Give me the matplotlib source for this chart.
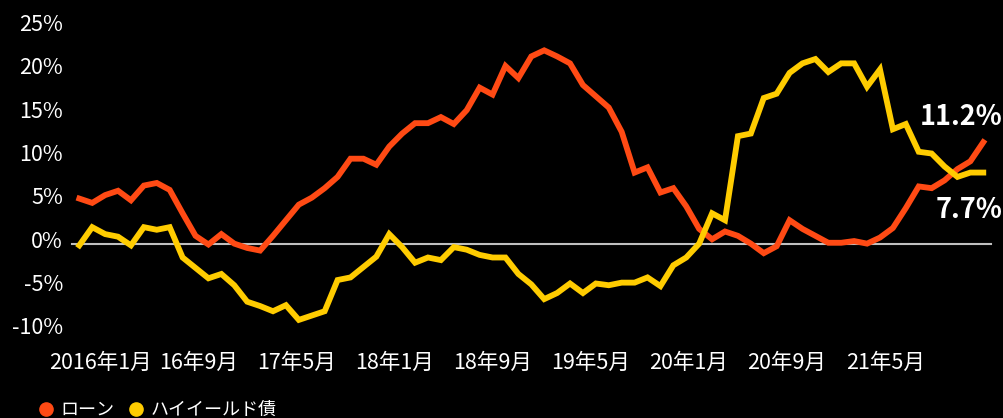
import matplotlib
matplotlib.use("Agg")
import matplotlib.pyplot as plt
import matplotlib.transforms as mtransforms
from matplotlib.lines import Line2D

plt.rcParams['font.family'] = ['Noto Sans CJK JP', 'DejaVu Sans']

# ---- data (monthly, 71 points) ----
loan = [4.7, 4.2, 5.1, 5.6, 4.5, 6.2, 6.5, 5.7, 3.0, 0.4,
        -0.6, 0.6, -0.5, -1.0, -1.3, 0.4, 2.2, 4.0, 4.8, 5.9,
        7.2, 9.3, 9.3, 8.6, 10.7, 12.2, 13.4, 13.4, 14.1, 13.3,
        14.9, 17.5, 16.7, 20.0, 18.6, 21.1, 21.8, 21.1, 20.3, 17.8,
        16.5, 15.2, 12.4, 7.7, 8.3, 5.4, 5.9, 3.8, 1.2, 0.0,
        0.9, 0.4, -0.5, -1.6, -0.8, 2.2, 1.2, 0.4, -0.4, -0.4,
        -0.2, -0.5, 0.2, 1.3, 3.6, 6.1, 5.9, 6.8, 8.1, 9.0,
        11.2]
hy = [-0.7, 1.4, 0.6, 0.3, -0.7, 1.4, 1.1, 1.4, -2.1, -3.3,
      -4.5, -4.0, -5.3, -7.2, -7.7, -8.3, -7.6, -9.3, -8.8, -8.3,
      -4.7, -4.4, -3.2, -2.0, 0.6, -0.9, -2.7, -2.1, -2.4, -0.9,
      -1.2, -1.8, -2.1, -2.1, -4.0, -5.2, -6.9, -6.2, -5.1, -6.2,
      -5.1, -5.3, -5.0, -5.0, -4.4, -5.4, -3.0, -2.1, -0.5, 3.0,
      2.2, 11.9, 12.2, 16.3, 16.8, 19.2, 20.3, 20.8, 19.3, 20.3,
      20.3, 17.6, 19.6, 12.7, 13.3, 10.1, 9.9, 8.4, 7.2, 7.7,
      7.7]
x_labels = ['2016年1月', '16年9月', '17年5月', '18年1月', '18年9月',
            '19年5月', '20年1月', '20年9月', '21年5月']
y_ticks = [-10, -5, 0, 5, 10, 15, 20, 25]
series_names = ['ローン', 'ハイイールド債']
end_labels = ['11.2%', '7.7%']

c_loan = '#FF4A14'
c_hy = '#FFCC00'

W, H = 1004, 418
fig = plt.figure(figsize=(W / 100, H / 100), dpi=100, facecolor='black')

# pixel geometry of plot area
x0_px, dx_px = 79.3, 12.914
y0_px, dy_px = 239.3, 8.667
ax_l, ax_r, ax_t, ax_b = 70, 1000, 5, 338
ax = fig.add_axes([ax_l / W, (H - ax_b) / H, (ax_r - ax_l) / W, (ax_b - ax_t) / H])
ax.set_facecolor('black')
ax.set_xlim((ax_l - x0_px) / dx_px, (ax_r - x0_px) / dx_px)
ax.set_ylim((y0_px - ax_b) / dy_px, (y0_px - ax_t) / dy_px)

xs = list(range(len(loan)))

# zero line (slightly offset as in reference)
off = mtransforms.ScaledTranslation(0, -4.7 / 100, fig.dpi_scale_trans)
ax.plot([0.002, 0.99], [0, 0], color='#BFBFBF', lw=1.5,
        transform=ax.get_yaxis_transform() + off, zorder=1)

ax.plot(xs, loan, color=c_loan, lw=4.2, solid_joinstyle='miter', zorder=3)
ax.plot(xs, hy, color=c_hy, lw=4.2, solid_joinstyle='miter', zorder=4)

for s in ax.spines.values():
    s.set_visible(False)

ax.set_yticks(y_ticks)
ax.set_yticklabels([f'{v}%' for v in y_ticks])
xt = [1.6 + 7.6 * i for i in range(len(x_labels))]
ax.set_xticks(xt)
ax.set_xticklabels(x_labels)
ax.tick_params(axis='both', length=0, colors='white', labelsize=15.5)
ax.tick_params(axis='y', pad=5)
ax.tick_params(axis='x', pad=10)

# end labels
ax.annotate(end_labels[0], xy=(xs[-1], loan[-1]), xytext=(13.5, 18), textcoords='offset points',
            ha='right', va='center', color='white', fontsize=19.5, fontweight='bold',
            annotation_clip=False)
ax.annotate(end_labels[1], xy=(xs[-1], hy[-1]), xytext=(13.5, -27), textcoords='offset points',
            ha='right', va='center', color='white', fontsize=19.5, fontweight='bold',
            annotation_clip=False)

handles = [Line2D([], [], marker='o', ls='', color=c, markersize=9.5) for c in (c_loan, c_hy)]
fig.legend(handles, series_names, loc='center left', bbox_to_anchor=(39 / W, 1 - 410 / H),
           frameon=False, ncol=2, fontsize=13, labelcolor='white', handlelength=0.8,
           handletextpad=0.4, columnspacing=0.8, borderpad=0, borderaxespad=0)

fig.savefig('out.png', dpi=100, facecolor='black')
